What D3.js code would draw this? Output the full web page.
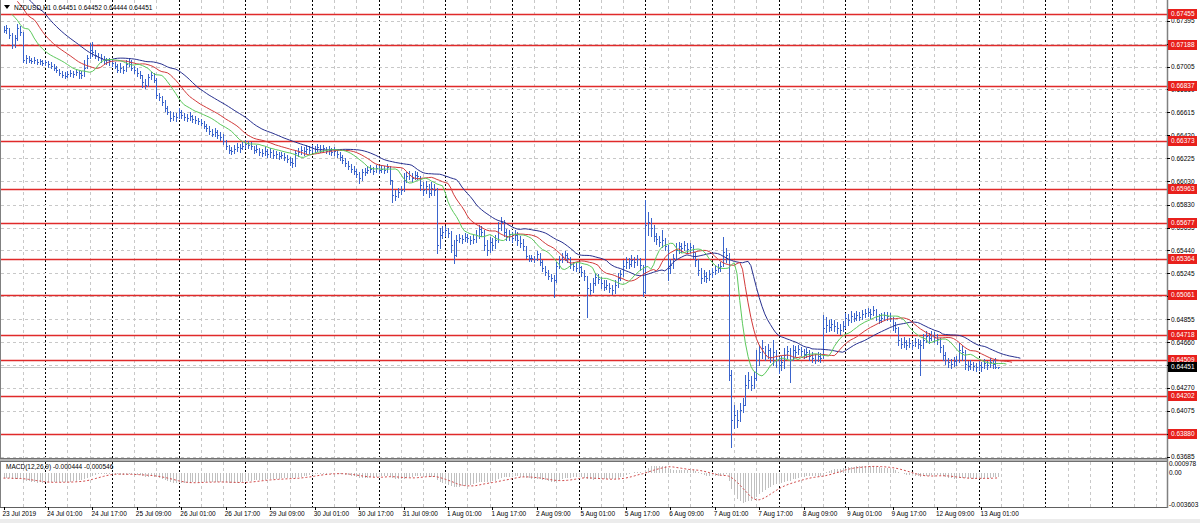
<!DOCTYPE html>
<html><head><meta charset="utf-8">
<script src="https://cdn.jsdelivr.net/npm/d3@7"></script>
<style>body{margin:0;background:#fff;overflow:hidden}svg{display:block}text{font-family:"Liberation Sans",Arial,sans-serif}</style>
</head><body><svg id="c" width="1200" height="523"></svg>
<script>
// ---------- data ----------
const symbolTitle = "NZDUSD,H1";
const lastBarOHLC = ["0.64451", "0.64452", "0.64444", "0.64451"];
const firstOpen = 0.67320;
const closes = [
0.67316,0.67333,0.67273,0.67188,0.67248,0.67333,0.67299,0.67060,0.67077,0.67060,
0.67052,0.67060,0.67043,0.67052,0.67035,0.67043,0.67026,0.67009,0.66992,0.66975,
0.66950,0.66933,0.66924,0.66941,0.66950,0.66941,0.66958,0.66950,0.66933,0.66992,
0.67077,0.67145,0.67128,0.67103,0.67086,0.67077,0.67060,0.67043,0.67052,0.67035,
0.67009,0.66975,0.66992,0.66975,0.67026,0.67043,0.66992,0.66975,0.66950,0.66933,
0.66873,0.66848,0.66916,0.66933,0.66890,0.66763,0.66746,0.66703,0.66652,0.66618,
0.66567,0.66584,0.66575,0.66618,0.66592,0.66575,0.66567,0.66584,0.66558,0.66550,
0.66541,0.66524,0.66499,0.66482,0.66456,0.66431,0.66448,0.66422,0.66405,0.66371,
0.66329,0.66295,0.66286,0.66303,0.66320,0.66312,0.66329,0.66346,0.66337,0.66329,
0.66295,0.66303,0.66278,0.66269,0.66286,0.66261,0.66278,0.66252,0.66261,0.66244,
0.66252,0.66235,0.66218,0.66192,0.66184,0.66269,0.66278,0.66295,0.66286,0.66303,
0.66295,0.66312,0.66303,0.66320,0.66303,0.66312,0.66286,0.66295,0.66278,0.66286,
0.66261,0.66235,0.66209,0.66184,0.66158,0.66133,0.66116,0.66090,0.66056,0.66107,
0.66107,0.66124,0.66133,0.66116,0.66141,0.66124,0.66133,0.66124,0.66150,0.66039,
0.65912,0.65903,0.65937,0.65954,0.66039,0.66073,0.66082,0.66056,0.66082,0.66073,
0.65997,0.65954,0.65988,0.65929,0.65971,0.65954,0.65486,0.65571,0.65597,0.65614,
0.65588,0.65486,0.65401,0.65529,0.65546,0.65537,0.65554,0.65546,0.65529,0.65537,
0.65571,0.65622,0.65597,0.65486,0.65444,0.65512,0.65486,0.65529,0.65631,0.65682,
0.65597,0.65563,0.65580,0.65546,0.65571,0.65529,0.65503,0.65478,0.65393,0.65376,
0.65376,0.65367,0.65410,0.65342,0.65291,0.65256,0.65222,0.65205,0.65188,0.65308,
0.65359,0.65384,0.65401,0.65376,0.65325,0.65308,0.65291,0.65299,0.65256,0.65222,
0.65120,0.65103,0.65163,0.65214,0.65197,0.65163,0.65129,0.65146,0.65120,0.65103,
0.65146,0.65205,0.65240,0.65308,0.65342,0.65325,0.65359,0.65342,0.65367,0.65316,
0.65086,0.65656,0.65682,0.65631,0.65563,0.65537,0.65512,0.65529,0.65478,0.65291,
0.65316,0.65376,0.65444,0.65478,0.65461,0.65486,0.65452,0.65469,0.65427,0.65359,
0.65274,0.65205,0.65222,0.65205,0.65240,0.65256,0.65274,0.65291,0.65308,0.65427,
0.65401,0.64380,0.63997,0.64039,0.63997,0.64082,0.64124,0.64295,0.64337,0.64295,
0.64354,0.64508,0.64576,0.64610,0.64550,0.64593,0.64533,0.64576,0.64508,0.64465,
0.64491,0.64550,0.64584,0.64508,0.64593,0.64576,0.64601,0.64584,0.64559,0.64576,
0.64542,0.64525,0.64508,0.64542,0.64525,0.64780,0.64805,0.64788,0.64814,0.64797,
0.64780,0.64763,0.64797,0.64865,0.64848,0.64882,0.64865,0.64890,0.64873,0.64899,
0.64907,0.64916,0.64899,0.64933,0.64882,0.64848,0.64865,0.64890,0.64882,0.64865,
0.64805,0.64780,0.64678,0.64644,0.64661,0.64635,0.64652,0.64635,0.64661,0.64644,
0.64635,0.64678,0.64712,0.64695,0.64720,0.64703,0.64686,0.64618,0.64550,0.64508,
0.64491,0.64474,0.64499,0.64508,0.64593,0.64576,0.64474,0.64456,0.64474,0.64456,
0.64448,0.64465,0.64448,0.64482,0.64465,0.64491,0.64474,0.64451,0.64451];
const highs = [
0.67350,0.67358,0.67333,0.67290,0.67273,0.67367,0.67350,0.67290,0.67103,0.67094,
0.67077,0.67086,0.67069,0.67069,0.67060,0.67060,0.67052,0.67043,0.67026,0.67009,
0.66984,0.66967,0.66958,0.66967,0.66975,0.66967,0.66984,0.66975,0.66967,0.67060,
0.67103,0.67205,0.67214,0.67145,0.67120,0.67111,0.67094,0.67077,0.67077,0.67069,
0.67043,0.67026,0.67035,0.67009,0.67060,0.67077,0.67060,0.67009,0.66992,0.66967,
0.66924,0.66899,0.66941,0.66958,0.66950,0.66907,0.66780,0.66754,0.66720,0.66669,
0.66627,0.66618,0.66610,0.66652,0.66635,0.66610,0.66601,0.66618,0.66592,0.66584,
0.66567,0.66558,0.66541,0.66516,0.66499,0.66473,0.66482,0.66465,0.66448,0.66431,
0.66380,0.66337,0.66320,0.66337,0.66354,0.66346,0.66363,0.66380,0.66371,0.66363,
0.66329,0.66337,0.66312,0.66303,0.66320,0.66303,0.66312,0.66295,0.66286,0.66278,
0.66278,0.66269,0.66252,0.66235,0.66227,0.66295,0.66312,0.66329,0.66320,0.66337,
0.66329,0.66337,0.66329,0.66346,0.66337,0.66337,0.66320,0.66329,0.66312,0.66320,
0.66295,0.66278,0.66252,0.66227,0.66201,0.66175,0.66158,0.66133,0.66107,0.66133,
0.66141,0.66158,0.66167,0.66150,0.66167,0.66158,0.66167,0.66158,0.66175,0.66158,
0.66039,0.65954,0.65971,0.65988,0.66099,0.66107,0.66116,0.66099,0.66116,0.66107,
0.66056,0.66022,0.66031,0.66005,0.66022,0.66005,0.65971,0.65631,0.65648,0.65648,
0.65631,0.65605,0.65529,0.65571,0.65580,0.65571,0.65588,0.65580,0.65563,0.65571,
0.65614,0.65656,0.65648,0.65614,0.65529,0.65554,0.65546,0.65571,0.65682,0.65724,
0.65699,0.65622,0.65614,0.65597,0.65614,0.65597,0.65563,0.65537,0.65478,0.65401,
0.65401,0.65393,0.65435,0.65418,0.65359,0.65308,0.65274,0.65240,0.65231,0.65342,
0.65393,0.65418,0.65435,0.65418,0.65384,0.65342,0.65333,0.65342,0.65308,0.65274,
0.65222,0.65163,0.65205,0.65248,0.65240,0.65214,0.65188,0.65188,0.65163,0.65146,
0.65188,0.65248,0.65274,0.65359,0.65384,0.65376,0.65401,0.65384,0.65401,0.65376,
0.65316,0.65869,0.65767,0.65716,0.65656,0.65588,0.65563,0.65614,0.65546,0.65486,
0.65367,0.65410,0.65503,0.65512,0.65503,0.65520,0.65503,0.65503,0.65486,0.65427,
0.65367,0.65291,0.65274,0.65256,0.65274,0.65291,0.65308,0.65325,0.65342,0.65554,
0.65461,0.65418,0.64422,0.64124,0.64082,0.64141,0.64184,0.64380,0.64405,0.64371,
0.64405,0.64593,0.64635,0.64678,0.64627,0.64644,0.64610,0.64678,0.64593,0.64533,
0.64542,0.64610,0.64627,0.64610,0.64635,0.64627,0.64635,0.64618,0.64601,0.64610,
0.64593,0.64576,0.64559,0.64576,0.64567,0.64890,0.64873,0.64848,0.64856,0.64848,
0.64831,0.64814,0.64839,0.64907,0.64899,0.64924,0.64907,0.64924,0.64916,0.64933,
0.64941,0.64950,0.64941,0.64967,0.64941,0.64899,0.64907,0.64916,0.64916,0.64907,
0.64873,0.64831,0.64788,0.64695,0.64703,0.64678,0.64695,0.64669,0.64695,0.64686,
0.64678,0.64729,0.64754,0.64737,0.64754,0.64746,0.64729,0.64695,0.64635,0.64576,
0.64525,0.64516,0.64533,0.64542,0.64652,0.64627,0.64593,0.64499,0.64508,0.64491,
0.64482,0.64499,0.64491,0.64516,0.64499,0.64525,0.64508,0.64525,0.64452];
const lows = [
0.67299,0.67290,0.67248,0.67162,0.67171,0.67231,0.67273,0.67043,0.67035,0.67043,
0.67035,0.67035,0.67026,0.67026,0.67018,0.67018,0.67001,0.66992,0.66975,0.66958,
0.66933,0.66916,0.66907,0.66916,0.66924,0.66916,0.66933,0.66907,0.66907,0.66924,
0.67009,0.67077,0.67094,0.67077,0.67060,0.67043,0.67026,0.67026,0.67018,0.67009,
0.66992,0.66958,0.66958,0.66950,0.66967,0.67009,0.66975,0.66950,0.66924,0.66907,
0.66831,0.66822,0.66839,0.66899,0.66873,0.66737,0.66720,0.66678,0.66627,0.66601,
0.66541,0.66550,0.66541,0.66567,0.66567,0.66550,0.66541,0.66550,0.66533,0.66524,
0.66516,0.66507,0.66482,0.66456,0.66431,0.66414,0.66414,0.66397,0.66380,0.66346,
0.66303,0.66269,0.66261,0.66269,0.66286,0.66278,0.66303,0.66312,0.66312,0.66303,
0.66269,0.66278,0.66252,0.66244,0.66252,0.66235,0.66235,0.66227,0.66227,0.66218,
0.66227,0.66209,0.66192,0.66167,0.66150,0.66158,0.66244,0.66261,0.66252,0.66269,
0.66269,0.66278,0.66278,0.66286,0.66278,0.66286,0.66269,0.66261,0.66252,0.66252,
0.66235,0.66209,0.66184,0.66158,0.66133,0.66107,0.66090,0.66065,0.66014,0.66039,
0.66082,0.66099,0.66107,0.66090,0.66107,0.66099,0.66107,0.66099,0.66107,0.66005,
0.65852,0.65869,0.65895,0.65920,0.65946,0.66022,0.66048,0.66031,0.66048,0.66048,
0.65954,0.65912,0.65929,0.65895,0.65912,0.65912,0.65418,0.65461,0.65546,0.65563,
0.65554,0.65427,0.65333,0.65393,0.65512,0.65503,0.65520,0.65512,0.65495,0.65503,
0.65512,0.65546,0.65563,0.65444,0.65401,0.65427,0.65444,0.65461,0.65512,0.65614,
0.65563,0.65529,0.65529,0.65512,0.65529,0.65486,0.65469,0.65444,0.65376,0.65350,
0.65350,0.65342,0.65359,0.65316,0.65265,0.65231,0.65197,0.65180,0.65044,0.65171,
0.65291,0.65342,0.65359,0.65342,0.65291,0.65274,0.65265,0.65265,0.65222,0.65188,
0.64873,0.65069,0.65086,0.65146,0.65163,0.65120,0.65103,0.65112,0.65086,0.65069,
0.65078,0.65129,0.65188,0.65222,0.65291,0.65291,0.65308,0.65299,0.65316,0.65274,
0.65052,0.65078,0.65571,0.65563,0.65520,0.65495,0.65478,0.65469,0.65444,0.65188,
0.65248,0.65291,0.65367,0.65418,0.65427,0.65444,0.65418,0.65427,0.65376,0.65308,
0.65231,0.65163,0.65180,0.65171,0.65188,0.65214,0.65240,0.65256,0.65265,0.65308,
0.65342,0.64337,0.63767,0.63929,0.63937,0.63988,0.64065,0.64124,0.64269,0.64252,
0.64269,0.64337,0.64465,0.64525,0.64508,0.64525,0.64491,0.64465,0.64448,0.64397,
0.64422,0.64439,0.64525,0.64320,0.64542,0.64542,0.64559,0.64550,0.64525,0.64533,
0.64508,0.64491,0.64482,0.64499,0.64491,0.64525,0.64746,0.64754,0.64763,0.64754,
0.64737,0.64729,0.64754,0.64780,0.64805,0.64831,0.64839,0.64848,0.64848,0.64856,
0.64873,0.64882,0.64865,0.64890,0.64848,0.64822,0.64831,0.64848,0.64848,0.64839,
0.64763,0.64746,0.64635,0.64610,0.64618,0.64601,0.64618,0.64601,0.64627,0.64610,
0.64380,0.64610,0.64661,0.64652,0.64678,0.64661,0.64644,0.64576,0.64508,0.64474,
0.64448,0.64439,0.64456,0.64465,0.64491,0.64508,0.64431,0.64422,0.64431,0.64422,
0.64414,0.64422,0.64414,0.64439,0.64431,0.64448,0.64439,0.64440,0.64444];

const timeLabels = ["23 Jul 2019","24 Jul 01:00","24 Jul 17:00","25 Jul 09:00","26 Jul 01:00","26 Jul 17:00",
  "29 Jul 09:00","30 Jul 01:00","30 Jul 17:00","31 Jul 09:00","1 Aug 01:00","1 Aug 17:00","2 Aug 09:00",
  "5 Aug 01:00","5 Aug 17:00","6 Aug 09:00","7 Aug 01:00","7 Aug 17:00","8 Aug 09:00","9 Aug 01:00",
  "9 Aug 17:00","12 Aug 09:00","13 Aug 01:00"];
const priceTicks = [0.67395,0.67200,0.67005,0.66810,0.66615,0.66420,0.66225,0.66030,0.65830,0.65635,
  0.65440,0.65245,0.65050,0.64855,0.64660,0.64465,0.64270,0.64075,0.63880,0.63685];
const levels = [0.67455,0.67188,0.66837,0.66373,0.65963,0.65677,0.65364,0.65061,0.64718,0.64509,0.64202,0.63880];
const lastPrice = 0.64451;
const macdTicks = [0.000978, 0, -0.003603];
const macdTickLabels = ["0.000978", "0.00", "-0.003603"];
const macdTitle = "MACD(12,26,9) -0.000444 -0.000546";
const alligatorSeeds = [0.67600, 0.67560, 0.67450]; // jaw, teeth, lips at first bar
const macdSeeds = [0.67380, 0.67440, -0.00060];     // ema12, ema26, signal at first bar

// ---------- layout ----------
const svg = d3.select("#c");
const RIGHT = 1167, MAIN_B = 458, M_TOP = 462, M_BOT = 507;
const x = d3.scaleLinear().domain([0, 419.5]).range([3.5, 1169]);
const y = d3.scaleLinear().domain([0.63685, 0.67395]).range([456.7, 20.7]);
const ym = d3.scaleLinear().domain([-0.003603, 0.000978]).range([505, 464]);
const px = i => Math.round(x(i)) + 0.5;
const FONT = 6.5;

svg.append("rect").attr("width",1200).attr("height",523).attr("fill","#fff");
svg.append("rect").attr("y",519).attr("width",1200).attr("height",4).attr("fill","#ececec");

const defs = svg.append("defs");
defs.append("clipPath").attr("id","cm").append("rect").attr("x",1).attr("y",0).attr("width",RIGHT-1).attr("height",MAIN_B);
defs.append("clipPath").attr("id","cs").append("rect").attr("x",1).attr("y",M_TOP).attr("width",RIGHT-1).attr("height",M_BOT-M_TOP);

const main = svg.append("g").attr("clip-path","url(#cm)");
const sub = svg.append("g").attr("clip-path","url(#cs)");

// grid
const nBars = 420;
const vgrid = d3.range(7, nBars, 8);
const isDay = d => (d - 15) % 24 === 0;
[main, sub].forEach((g, k) => {
  const y0 = k ? M_TOP : 0, y1 = k ? M_BOT : MAIN_B;
  g.selectAll(null).data(vgrid).join("line")
    .attr("x1", d => px(d)).attr("x2", d => px(d)).attr("y1", y0).attr("y2", y1)
    .attr("stroke", d => isDay(d) ? "#000" : "#c8c8c8")
    .attr("stroke-dasharray", d => isDay(d) ? "2,2" : "3,3").attr("stroke-width", 1)
    .attr("shape-rendering","crispEdges");
});
main.selectAll(null).data(priceTicks).join("line")
  .attr("x1",1).attr("x2",RIGHT).attr("y1",d=>Math.round(y(d))+0.5).attr("y2",d=>Math.round(y(d))+0.5)
  .attr("stroke","#c8c8c8").attr("stroke-dasharray","3,3").attr("shape-rendering","crispEdges");

// levels
main.selectAll(null).data(levels).join("line")
  .attr("x1",1).attr("x2",RIGHT).attr("y1",d=>Math.round(y(d))+0.5).attr("y2",d=>Math.round(y(d))+0.5)
  .attr("stroke","#e02a2a").attr("stroke-width",1.3);
// bid line
main.append("line").attr("x1",1).attr("x2",RIGHT).attr("y1",Math.round(y(lastPrice))+0.5).attr("y2",Math.round(y(lastPrice))+0.5)
  .attr("stroke","#c8c8c8");

// bars
const bars = closes.map((c, i) => {
  const o = i === 0 ? firstOpen : closes[i-1];
  return {i, o, c, h: Math.max(highs[i], o, c), l: Math.min(lows[i], o, c)};
});
const barColor = "#3a64cc";
const bg = main.append("g").attr("stroke", barColor).attr("stroke-width", 1).attr("shape-rendering","crispEdges");
bg.selectAll(null).data(bars).join("path")
  .attr("d", d => {
    const X = px(d.i), yh = Math.round(y(d.h)), yl = Math.round(y(d.l)) + 1;
    const yo = Math.round(y(d.o)) + 0.5, yc = Math.round(y(d.c)) + 0.5;
    return `M${X},${yh}V${Math.max(yl, yh + 1)}M${X-1},${yo}H${X}M${X},${yc}H${X+1}`;
  });

// alligator (SMMA of median price, shifted forward)
const median = highs.map((h, i) => (h + lows[i]) / 2);
function smma(n, seed) {
  let v = seed;
  return median.map((p, i) => (v = i === 0 ? seed : (v * (n - 1) + p) / n));
}
const gator = [
  {n: 13, shift: 8, seed: alligatorSeeds[0], color: "#27308f"},
  {n: 8, shift: 5, seed: alligatorSeeds[1], color: "#d23a3a"},
  {n: 5, shift: 3, seed: alligatorSeeds[2], color: "#5cc95c"}
];
gator.forEach(g => {
  const vals = smma(g.n, g.seed);
  main.append("path").datum(vals)
    .attr("d", d3.line().x((v, i) => x(i + g.shift)).y(v => y(v)))
    .attr("fill","none").attr("stroke", g.color).attr("stroke-width", 1);
});

// MACD
function ema(n, seed) { const a = 2 / (n + 1); let v = seed; return closes.map((c, i) => (v = i === 0 ? seed : v + a * (c - v))); }
const e12 = ema(12, macdSeeds[0]), e26 = ema(26, macdSeeds[1]);
const macdMain = e12.map((v, i) => v - e26[i]);
const macdSignal = macdMain.map((v, i) => {
  let s = 0;
  for (let k = i - 8; k <= i; k++) s += k < 0 ? macdSeeds[2] : macdMain[k];
  return s / 9;
});
sub.append("g").attr("stroke","#c0c0c0").attr("shape-rendering","crispEdges")
  .selectAll(null).data(macdMain).join("line")
  .attr("x1",(v,i)=>px(i)).attr("x2",(v,i)=>px(i))
  .attr("y1", ym(0)).attr("y2", v => ym(v));
sub.append("path").datum(macdSignal)
  .attr("d", d3.line().x((v, i) => x(i)).y(v => ym(v)))
  .attr("fill","none").attr("stroke","#d04a4a").attr("stroke-width",1).attr("stroke-dasharray","2,2");

// frames
svg.append("line").attr("x1",0.5).attr("x2",0.5).attr("y1",0).attr("y2",M_BOT).attr("stroke","#808080");
svg.append("rect").attr("x",0).attr("y",MAIN_B).attr("width",RIGHT+1).attr("height",4).attr("fill","#b4b4b4");
svg.append("line").attr("x1",0).attr("x2",RIGHT+1).attr("y1",MAIN_B+0.5).attr("y2",MAIN_B+0.5).attr("stroke","#707070");
svg.append("line").attr("x1",0).attr("x2",RIGHT+1).attr("y1",M_TOP-0.5).attr("y2",M_TOP-0.5).attr("stroke","#707070");
svg.append("line").attr("x1",0).attr("x2",RIGHT+1).attr("y1",M_BOT+0.5).attr("y2",M_BOT+0.5).attr("stroke","#606060");
svg.append("line").attr("x1",RIGHT+0.5).attr("x2",RIGHT+0.5).attr("y1",0).attr("y2",M_BOT+1).attr("stroke","#808080").attr("stroke-width",1.5);

// price axis labels
const ax = svg.append("g").attr("font-size", FONT).attr("fill", "#000");
ax.selectAll(null).data(priceTicks).join("text")
  .attr("x", RIGHT + 4).attr("y", d => y(d) + 2.4).text(d => d.toFixed(5));
ax.selectAll(null).data(priceTicks).join("line")
  .attr("x1", RIGHT).attr("x2", RIGHT + 3).attr("y1", d => Math.round(y(d)) + 0.5).attr("y2", d => Math.round(y(d)) + 0.5).attr("stroke","#000");
// level tags
const tags = svg.append("g");
const tagData = levels.map(v => ({v, bg: "#e8201c"})).concat([{v: lastPrice, bg: "#000"}]);
tags.selectAll(null).data(tagData).join("rect")
  .attr("x", RIGHT + 1).attr("y", d => Math.round(y(d.v)) - 5).attr("width", 29).attr("height", 10).attr("fill", d => d.bg);
tags.selectAll(null).data(tagData).join("text")
  .attr("x", RIGHT + 4).attr("y", d => Math.round(y(d.v)) + 2.4).attr("font-size", FONT).attr("fill", "#fff")
  .text(d => d.v.toFixed(5));

// macd axis
ax.selectAll(null).data(macdTicks).join("text")
  .attr("x", RIGHT + 2).attr("y", d => ym(d) + 2.4).text((d, i) => macdTickLabels[i]);

// time axis
svg.append("g").attr("font-size", FONT).attr("fill","#000")
  .selectAll(null).data(timeLabels).join("text")
  .attr("x", (d, i) => x(i * 16) - 1).attr("y", 516).text(d => d);
svg.append("g").attr("stroke","#000").selectAll(null).data(timeLabels).join("line")
  .attr("x1",(d,i)=>px(i*16)).attr("x2",(d,i)=>px(i*16)).attr("y1",M_BOT).attr("y2",M_BOT+3);

// titles
svg.append("path").attr("d","M4,5H10L7,9Z").attr("fill","#000");
svg.append("text").attr("x",14).attr("y",9.5).attr("font-size",FONT)
  .text(symbolTitle + "  " + lastBarOHLC.join(" "));
svg.append("text").attr("x",6).attr("y",469).attr("font-size",FONT).text(macdTitle);
</script>
</body></html>
